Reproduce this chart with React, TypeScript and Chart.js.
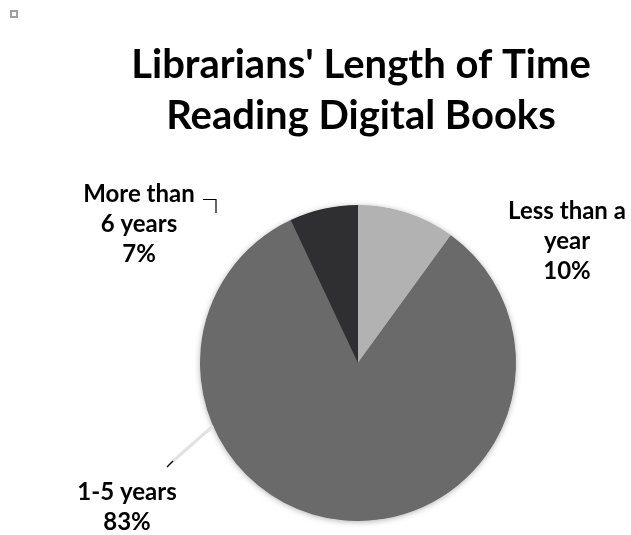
import React, { useEffect, useRef } from "react";
import { Chart, registerables } from "chart.js";

Chart.register(...registerables);

const categories = ["Less than a year", "1-5 years", "More than 6 years"];
const labelLines = [["Less than a", "year"], ["1-5 years"], ["More than", "6 years"]];
const values = [10, 83, 7];
const colors = ["#b2b2b2", "#6a6a6a", "#2f2f31"];
const titleLines = ["Librarians' Length of Time", "Reading Digital Books"];

const FONT = "Lato, 'Open Sans', sans-serif";

const decorPlugin = {
  id: "decor",
  beforeDatasetsDraw(chart: any) {
    const ctx = chart.ctx;
    const arc = chart.getDatasetMeta(0).data[0];
    if (!arc) return;
    const { x, y, outerRadius } = arc.getProps(["x", "y", "outerRadius"], true);
    ctx.save();
    ctx.shadowColor = "rgba(0,0,0,0.35)";
    ctx.shadowBlur = 6;
    ctx.shadowOffsetX = 0;
    ctx.shadowOffsetY = 1;
    ctx.fillStyle = "#6a6a6a";
    ctx.beginPath();
    ctx.arc(x, y, outerRadius - 0.5, 0, Math.PI * 2);
    ctx.fill();
    ctx.restore();
  },
  afterDraw(chart: any, _args: any, opts: any) {
    const ctx = chart.ctx;
    ctx.save();
    // small square icon
    ctx.strokeStyle = "#a0a0a0";
    ctx.lineWidth = 2;
    ctx.strokeRect(11, 11, 6, 6);

    // title
    ctx.fillStyle = "#000";
    ctx.textAlign = "center";
    ctx.textBaseline = "alphabetic";
    ctx.font = `bold ${opts.titleSize}px ${FONT}`;
    titleLines.forEach((t, i) => {
      ctx.fillText(t, opts.titleX, opts.titleY + i * opts.titleGap);
    });

    // leader lines
    ctx.strokeStyle = "#e2e2e2";
    ctx.lineWidth = 3;
    ctx.beginPath();
    ctx.moveTo(173, 461);
    ctx.lineTo(213, 426);
    ctx.stroke();
    ctx.strokeStyle = "#000";
    ctx.lineWidth = 1.5;
    ctx.beginPath();
    ctx.moveTo(167, 467);
    ctx.lineTo(173, 461);
    ctx.stroke();
    ctx.lineWidth = 1.2;
    ctx.beginPath();
    ctx.moveTo(203, 199.5);
    ctx.lineTo(216, 199.5);
    ctx.lineTo(216, 213);
    ctx.stroke();

    // data labels
    ctx.font = `bold ${opts.labelSize}px ${FONT}`;
    const total = values.reduce((a, b) => a + b, 0);
    values.forEach((v, i) => {
      const lines = [...labelLines[i], `${Math.round((v / total) * 100)}%`];
      const [lx, ly] = opts.labelPos[i];
      lines.forEach((l, j) => ctx.fillText(l, lx, ly + j * opts.labelGap));
    });
    ctx.restore();
  },
};

export default function App() {
  const ref = useRef<HTMLCanvasElement | null>(null);
  useEffect(() => {
    if (!ref.current) return;
    const chart = new Chart(ref.current, {
      type: "pie",
      data: {
        labels: categories,
        datasets: [
          {
            data: values,
            backgroundColor: colors,
            borderWidth: 0,
          },
        ],
      },
      options: {
        responsive: false,
        animation: false,
        layout: { padding: { left: 200, right: 115, top: 205, bottom: 14 } },
        plugins: {
          legend: { display: false },
          tooltip: { enabled: false },
          decor: {
            titleSize: 40,
            titleX: 361,
            titleY: 78,
            titleGap: 51,
            labelSize: 24,
            labelGap: 30,
            labelPos: [
              [567, 219],
              [127, 500],
              [139, 202],
            ],
          },
        } as any,
      },
      plugins: [decorPlugin],
    });
    return () => chart.destroy();
  }, []);
  return (
    <div style={{ position: "absolute", left: 0, top: 0, width: 631, height: 535, background: "#fff" }}>
      <canvas ref={ref} width={631} height={535} style={{ display: "block" }} />
    </div>
  );
}
